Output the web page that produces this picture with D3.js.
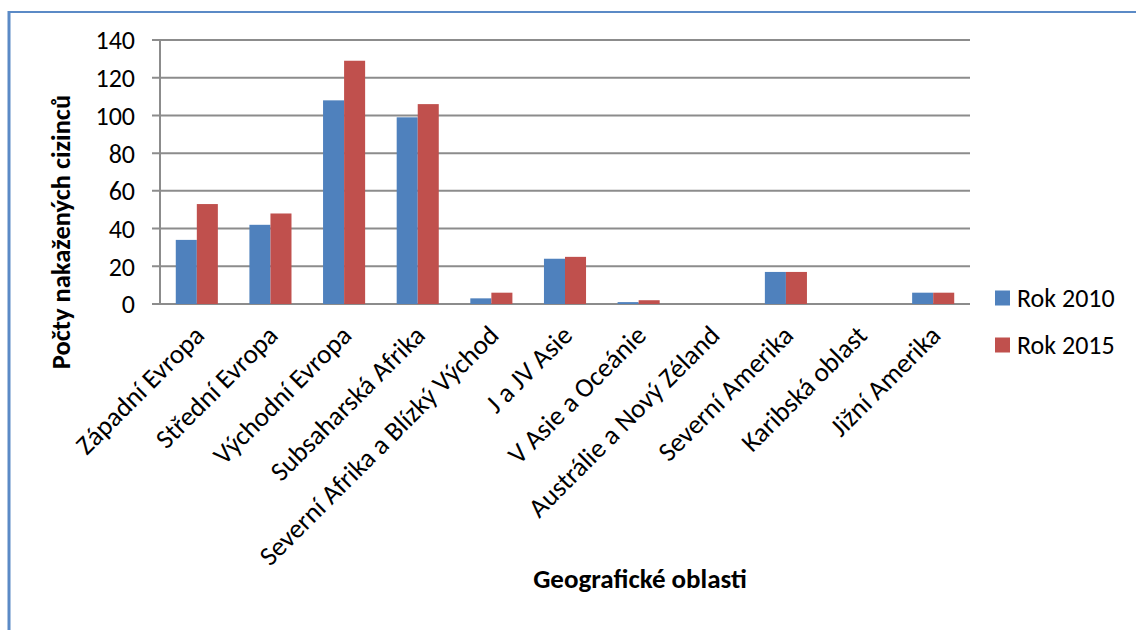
<!DOCTYPE html>
<html>
<head>
<meta charset="utf-8">
<script src="https://cdn.jsdelivr.net/npm/d3@7"></script>
<style>
  html, body { margin: 0; padding: 0; background: #fff; }
  svg { display: block; font-family: Carlito, Calibri, Lato, "Open Sans", sans-serif; }
</style>
</head>
<body>
<svg id="chart" width="1136" height="630"></svg>
<script>
// Geographic regions and numbers of infected foreigners
const categories = [
  "Západní Evropa", "Střední Evropa", "Východní Evropa", "Subsaharská Afrika",
  "Severní Afrika a Blízký Východ", "J a JV Asie", "V Asie a Oceánie",
  "Austrálie a Nový Zéland", "Severní Amerika", "Karibská oblast", "Jižní Amerika"
];
const rok2010 = [34, 42, 108, 99, 3, 24, 1, 0, 17, 0, 6];
const rok2015 = [53, 48, 129, 106, 6, 25, 2, 0, 17, 0, 6];
const seriesNames = ["Rok 2010", "Rok 2015"];
const seriesColors = ["#4F81BD", "#C0504D"];
const yTicks = [0, 20, 40, 60, 80, 100, 120, 140];

const svg = d3.select("#chart");

// frame lines (left and top)
svg.append("line").attr("x1", 9).attr("x2", 9).attr("y1", 11).attr("y2", 630)
  .attr("stroke", "#5B8AC6").attr("stroke-width", 3);
svg.append("line").attr("x1", 8).attr("x2", 1136).attr("y1", 12).attr("y2", 12)
  .attr("stroke", "#5B8AC6").attr("stroke-width", 2);

const plotL = 160, plotR = 970, plotT = 40, plotB = 304;

const x = d3.scaleBand().domain(categories).range([plotL, plotR]).paddingInner(0).paddingOuter(0);
const y = d3.scaleLinear().domain([0, 140]).range([plotB, plotT]);
const bw = x.bandwidth() / 3.5;   // gap width 150 %
const xs = d3.scaleBand().domain(seriesNames).range([0, 2 * bw]);

// horizontal gridlines with tick stubs
svg.append("g").selectAll("line").data(yTicks).join("line")
  .attr("x1", plotL - 8).attr("x2", plotR)
  .attr("y1", d => y(d)).attr("y2", d => y(d))
  .attr("stroke", "#8C8C8C").attr("stroke-width", 2);

// y axis line
svg.append("line").attr("x1", plotL).attr("x2", plotL).attr("y1", plotT).attr("y2", plotB)
  .attr("stroke", "#8C8C8C").attr("stroke-width", 2);

// y tick labels
svg.append("g").selectAll("text").data(yTicks).join("text")
  .attr("x", plotL - 25).attr("y", d => y(d)).attr("dy", "0.36em")
  .attr("text-anchor", "end").attr("font-size", 26).attr("fill", "#000")
  .text(d => d);

// bars
const data = categories.map((c, i) => ({ c, vals: [rok2010[i], rok2015[i]] }));
const groups = svg.append("g").selectAll("g").data(data).join("g")
  .attr("transform", d => `translate(${x(d.c) + (x.bandwidth() - 2 * bw) / 2},0)`);
groups.selectAll("rect").data(d => d.vals.map((v, k) => ({ v, k }))).join("rect")
  .attr("x", d => xs(seriesNames[d.k]))
  .attr("width", xs.bandwidth())
  .attr("y", d => y(d.v))
  .attr("height", d => y(0) - y(d.v))
  .attr("fill", d => seriesColors[d.k]);

// x tick labels rotated
svg.append("g").selectAll("text").data(categories).join("text")
  .attr("transform", d => `translate(${x(d) + x.bandwidth() / 2 + 9},${plotB + 33}) rotate(-45)`)
  .attr("text-anchor", "end").attr("font-size", 27).attr("fill", "#000")
  .text(d => d);

// axis titles
svg.append("text")
  .attr("transform", `translate(70,232) rotate(-90)`)
  .attr("text-anchor", "middle").attr("font-size", 26.5).attr("font-weight", "bold")
  .text("Počty nakažených cizinců");
svg.append("text")
  .attr("x", 640).attr("y", 588)
  .attr("text-anchor", "middle").attr("font-size", 27).attr("font-weight", "bold")
  .text("Geografické oblasti");

// legend
const legend = svg.append("g").selectAll("g").data(seriesNames).join("g")
  .attr("transform", (d, i) => `translate(995,${298 + i * 47})`);
legend.append("rect").attr("x", 0).attr("y", -7.5).attr("width", 15).attr("height", 15)
  .attr("fill", (d, i) => seriesColors[i]);
legend.append("text").attr("x", 22).attr("y", 0).attr("dy", "0.36em")
  .attr("font-size", 26).text(d => d);
</script>
</body>
</html>
